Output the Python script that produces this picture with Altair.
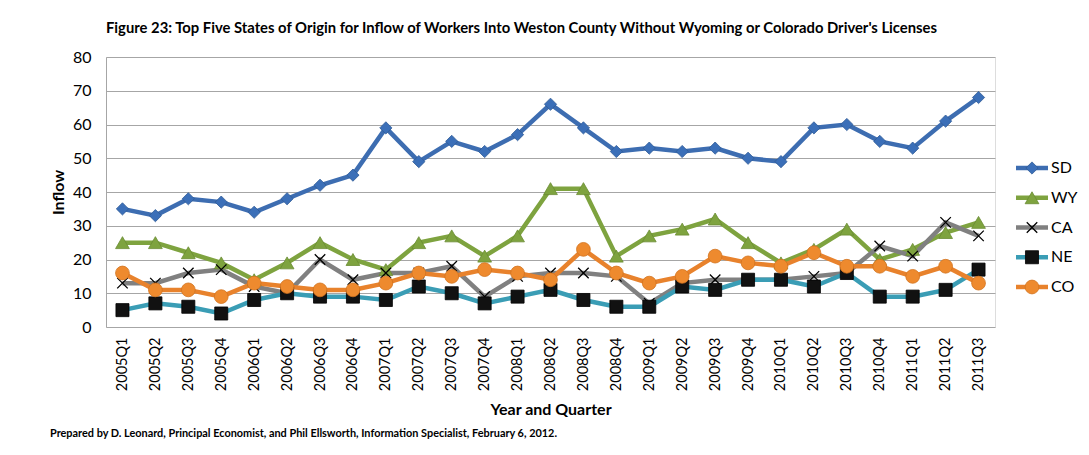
import altair as alt
import pandas as pd

quarters = [
    "2005Q1", "2005Q2", "2005Q3", "2005Q4",
    "2006Q1", "2006Q2", "2006Q3", "2006Q4",
    "2007Q1", "2007Q2", "2007Q3", "2007Q4",
    "2008Q1", "2008Q2", "2008Q3", "2008Q4",
    "2009Q1", "2009Q2", "2009Q3", "2009Q4",
    "2010Q1", "2010Q2", "2010Q3", "2010Q4",
    "2011Q1", "2011Q2", "2011Q3",
]

sd = [35, 33, 38, 37, 34, 38, 42, 45, 59, 49, 55, 52, 57, 66, 59, 52, 53, 52, 53, 50, 49, 59, 60, 55, 53, 61, 68]
wy = [25, 25, 22, 19, 14, 19, 25, 20, 17, 25, 27, 21, 27, 41, 41, 21, 27, 29, 32, 25, 19, 23, 29, 20, 23, 28, 31]
ca = [13, 13, 16, 17, 12, 10, 20, 14, 16, 16, 18, 9, 15, 16, 16, 15, 7, 13, 14, 14, 14, 15, 16, 24, 21, 31, 27]
ne = [5, 7, 6, 4, 8, 10, 9, 9, 8, 12, 10, 7, 9, 11, 8, 6, 6, 12, 11, 14, 14, 12, 16, 9, 9, 11, 17]
co = [16, 11, 11, 9, 13, 12, 11, 11, 13, 16, 15, 17, 16, 14, 23, 16, 13, 15, 21, 19, 18, 22, 18, 18, 15, 18, 13]

series_names = ["SD", "WY", "CA", "NE", "CO"]
series_values = [sd, wy, ca, ne, co]
line_colors = ["#3d6db1", "#7ea33f", "#808080", "#3a9db5", "#e8822c"]
line_widths = [4.5, 4.5, 2, 4.5, 4.5]

FONT = "Lato"

rows = []
for name, vals in zip(series_names, series_values):
    for q, v in zip(quarters, vals):
        rows.append({"quarter": q, "series": name, "value": v})
df = pd.DataFrame(rows)

legend_df = pd.DataFrame({"series": series_names})

W, H = 889, 270

x_enc = alt.X(
    "quarter:N",
    sort=quarters,
    scale=alt.Scale(type="point", padding=0.5),
    axis=alt.Axis(
        title="Year and Quarter",
        labelAngle=-90,
        labelAlign="right",
        labelBaseline="middle",
        labelFont=FONT,
        labelFontSize=14.5,
        labelColor="#000000",
        labelPadding=10,
        ticks=False,
        tickSize=0,
        domain=False,
        grid=False,
        titleFont=FONT,
        titleFontSize=16,
        titleFontWeight="bold",
        titleColor="#000000",
        titleY=74,
    ),
)

y_enc = alt.Y(
    "value:Q",
    scale=alt.Scale(domain=[0, 80]),
    axis=alt.Axis(
        title="Inflow",
        values=list(range(0, 81, 10)),
        labelFont=FONT,
        labelFontSize=16,
        labelColor="#000000",
        labelPadding=15,
        ticks=False,
        tickSize=0,
        domainColor="#a6a6a6",
        gridColor="#a6a6a6",
        gridWidth=1,
        titleFont=FONT,
        titleFontSize=16,
        titleFontWeight="bold",
        titleColor="#000000",
        titleX=-40,
    ),
)

color_scale = alt.Scale(domain=series_names, range=line_colors)
width_scale = alt.Scale(domain=series_names, range=line_widths)

lines = alt.Chart(df).mark_line().encode(
    x=x_enc,
    y=y_enc,
    color=alt.Color("series:N", scale=color_scale, legend=None),
    strokeWidth=alt.StrokeWidth("series:N", scale=width_scale, legend=None),
    detail="series:N",
)

# an "x" drawn as two crossing strokes
X_PATH = "M-1,-1L1,1M1,-1L-1,1"

marker_styles = {
    "SD": dict(shape="diamond", size=150, fill="#3b6fb8", stroke="#2f5a96", strokeWidth=0.8),
    "WY": dict(shape="triangle-up", size=190, fill="#7ea33f", stroke="#6a8c32", strokeWidth=0.8),
    "CA": dict(shape=X_PATH, size=110, fill=None, stroke="#000000", strokeWidth=1.3),
    "NE": dict(shape="square", size=170, fill="#111111", stroke="#000000", strokeWidth=0.8),
    "CO": dict(shape="circle", size=190, fill="#ee8a2e", stroke="#d27320", strokeWidth=0.8),
}


def marker(data, name, x, y):
    st = marker_styles[name]
    kwargs = dict(shape=st["shape"], size=st["size"], stroke=st["stroke"],
                  strokeWidth=st["strokeWidth"], opacity=1)
    if st["fill"] is None:
        kwargs["filled"] = False
    else:
        kwargs["filled"] = True
        kwargs["fill"] = st["fill"]
        kwargs["fillOpacity"] = 1
    return alt.Chart(data).transform_filter(
        alt.datum.series == name
    ).mark_point(**kwargs).encode(x=x, y=y)


y_plain = alt.Y("value:Q", scale=alt.Scale(domain=[0, 80]), axis=None)
points = [
    marker(df, n,
           alt.X("quarter:N", sort=quarters, scale=alt.Scale(type="point", padding=0.5), axis=None),
           y_plain)
    for n in series_names
]

# legend drawn beside the plot, one row per series
leg_y = alt.Y("series:N", sort=series_names,
              scale=alt.Scale(type="point", domain=series_names, range=[111, 230], padding=0),
              axis=None)

leg_lines = alt.Chart(legend_df).mark_rule().encode(
    x=alt.value(910), x2=alt.value(942), y=leg_y,
    color=alt.Color("series:N", scale=color_scale, legend=None),
    strokeWidth=alt.StrokeWidth("series:N", scale=width_scale, legend=None),
)
leg_marks = [marker(legend_df, n, alt.value(926), leg_y) for n in series_names]
leg_text = alt.Chart(legend_df).mark_text(
    align="left", baseline="middle", font=FONT, fontSize=16, color="#000000"
).encode(x=alt.value(945), y=leg_y, text="series:N")

footer_df = pd.DataFrame({
    "note": ["Prepared by D. Leonard, Principal Economist, and Phil Ellsworth, Information Specialist, February 6, 2012."]
})
footer = alt.Chart(footer_df).mark_text(
    align="left", baseline="middle", font=FONT, fontSize=10.9, fontWeight="bold", color="#000000"
).encode(x=alt.value(-56), y=alt.value(377), text="note:N")

chart = alt.layer(
    lines, *points, leg_lines, *leg_marks, leg_text, footer
).resolve_scale(
    y="independent", x="independent", color="shared", strokeWidth="shared"
).properties(
    width=W,
    height=H,
    title=alt.TitleParams(
        "Figure 23: Top Five States of Origin for Inflow of Workers Into Weston County Without Wyoming or Colorado Driver's Licenses",
        font=FONT, fontSize=14.8, fontWeight="bold", color="#000000",
        anchor="middle", offset=13, dx=-29,
    ),
    autosize=alt.AutoSizeParams(type="none"),
    padding={"left": 106, "top": 57, "right": 94, "bottom": 128},
).configure_view(stroke=None).configure(background="#ffffff")

chart.save("out.html", embed_options={"renderer": "svg", "actions": False})
